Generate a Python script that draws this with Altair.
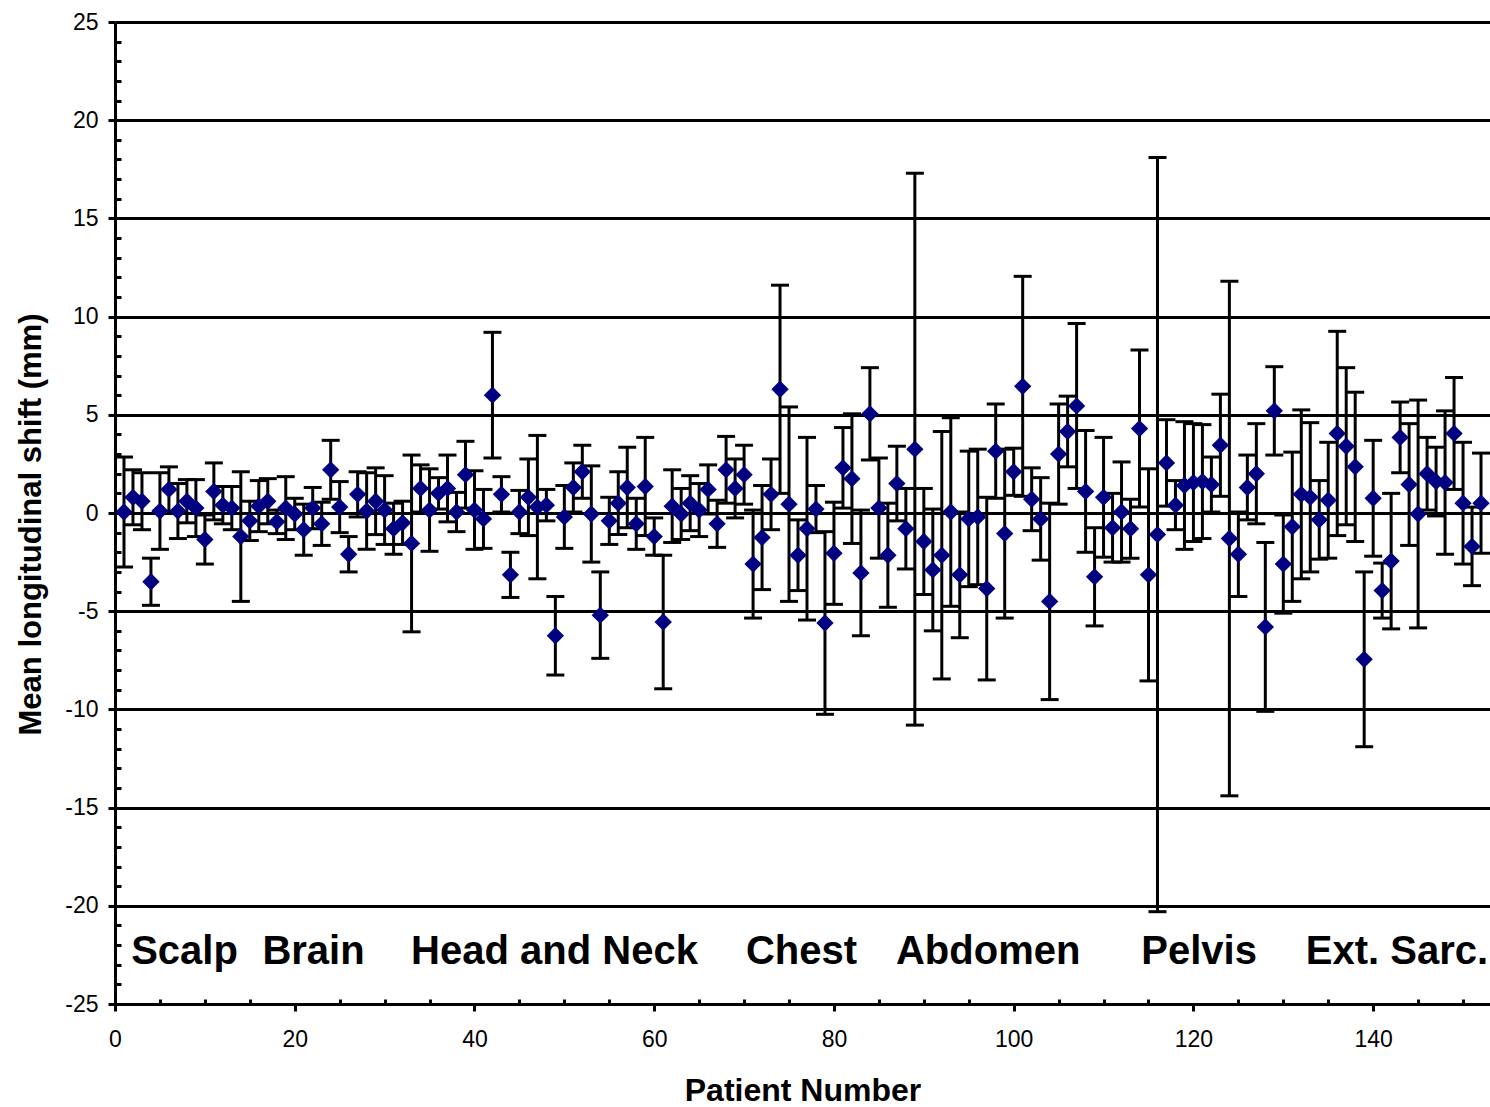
import altair as alt
import pandas as pd

patients = list(range(1, 153))

means = [
    0.05, 0.8, 0.6, -3.5, 0.1, 1.2, 0.1, 0.6, 0.25, -1.35,
    1.1, 0.4, 0.25, -1.2, -0.4, 0.35, 0.6, -0.45, 0.25, -0.05,
    -0.85, 0.25, -0.55, 2.2, 0.3, -2.1, 0.95, 0.1, 0.6, 0.15,
    -0.8, -0.5, -1.55, 1.25, 0.15, 1.0, 1.25, 0.05, 1.95, 0.15,
    -0.3, 6.0, 0.95, -3.15, 0.05, 0.8, 0.3, 0.4, -6.25, -0.2,
    1.3, 2.1, -0.05, -5.2, -0.4, 0.5, 1.3, -0.55, 1.35, -1.2,
    -5.55, 0.35, -0.05, 0.5, 0.15, 1.2, -0.55, 2.2, 1.25, 1.95,
    -2.6, -1.25, 0.95, 6.3, 0.45, -2.15, -0.8, 0.2, -5.6, -2.05,
    2.3, 1.75, -3.05, 5.05, 0.25, -2.15, 1.5, -0.8, 3.25, -1.45,
    -2.9, -2.15, 0.05, -3.15, -0.3, -0.2, -3.85, 3.15, -1.05, 2.1,
    6.45, 0.7, -0.3, -4.5, 3.0, 4.15, 5.45, 1.1, -3.25, 0.8,
    -0.75, 0.05, -0.8, 4.3, -3.15, -1.1, 2.55, 0.4, 1.4, 1.55,
    1.6, 1.45, 3.45, -1.3, -2.1, 1.3, 2.0, -5.8, 5.2, -2.6,
    -0.7, 0.95, 0.8, -0.35, 0.65, 4.05, 3.4, 2.35, -7.45, 0.75,
    -3.95, -2.45, 3.85, 1.45, -0.05, 2.0, 1.6, 1.55, 4.05, 0.5,
    -1.7, 0.5,
]

errors = [
    2.8, 1.4, 1.45, 1.2, 1.95, 1.15, 1.4, 1.1, 1.45, 1.25,
    1.45, 0.95, 1.1, 3.3, 1.0, 1.3, 1.15, 0.6, 1.6, 0.8,
    1.3, 1.05, 1.1, 1.5, 1.3, 0.9, 1.15, 1.95, 1.7, 1.75,
    1.3, 1.1, 4.5, 1.2, 2.1, 0.8, 1.7, 1.0, 1.7, 2.0,
    1.5, 3.2, 0.9, 1.15, 1.1, 1.95, 3.65, 0.8, 2.0, 1.6,
    1.25, 1.35, 2.45, 2.2, 1.2, 1.6, 2.05, 1.3, 2.5, 0.95,
    3.4, 1.85, 1.3, 1.4, 1.35, 1.25, 1.2, 1.7, 1.5, 1.5,
    2.75, 2.65, 1.8, 5.3, 4.95, 1.8, 4.65, 1.2, 4.65, 2.6,
    2.05, 3.3, 3.2, 2.35, 2.55, 2.65, 1.9, 2.05, 14.05, 2.7,
    3.1, 6.3, 4.8, 3.2, 3.45, 3.45, 4.65, 2.4, 4.3, 1.2,
    5.6, 1.6, 2.1, 5.0, 2.55, 1.8, 4.2, 3.1, 2.5, 3.05,
    1.75, 2.55, 1.5, 4.0, 5.4, 19.2, 2.2, 1.25, 3.25, 3.0,
    2.9, 1.4, 2.6, 13.1, 2.15, 1.65, 2.55, 4.3, 2.25, 2.5,
    3.8, 4.3, 3.8, 2.0, 2.95, 5.2, 4.0, 3.8, 4.45, 2.95,
    1.4, 3.45, 1.8, 3.1, 5.8, 1.85, 1.75, 3.65, 2.85, 3.1,
    2.0, 2.55,
]

regions = ["Scalp", "Brain", "Head and Neck", "Chest", "Abdomen", "Pelvis", "Ext. Sarc."]
region_x = [1.8, 16.4, 32.95, 70.2, 86.9, 114.2, 132.5]
region_y = [-22.95] * 7

x_major = [0, 20, 40, 60, 80, 100, 120, 140]
x_minor = [v for v in range(5, 155, 5) if v % 20 != 0]
y_major = list(range(-25, 30, 5))
y_minor = [v for v in range(-25, 26) if v % 5 != 0]

df = pd.DataFrame({"patient": patients, "mean": means, "err": errors})
df["lo"] = df["mean"] - df["err"]
df["hi"] = df["mean"] + df["err"]

lab = pd.DataFrame({"region": regions, "x": region_x, "y": region_y})

FONT = "Liberation Sans"
xs = alt.Scale(domain=[0, 153], nice=False, zero=False)
ys = alt.Scale(domain=[-25, 25], nice=False, zero=False)

base = alt.Chart(df)

whiskers = base.mark_rule(color="black", strokeWidth=3).encode(
    x=alt.X("patient:Q", scale=xs, axis=alt.Axis(
        orient="bottom", values=x_major, title="Patient Number", grid=False,
        tickSize=7, tickWidth=3, tickColor="black",
        domainWidth=3, domainColor="black", labelFlush=False,
        labelExpr="'' + datum.value",
        labelFont=FONT, labelFontSize=23, labelColor="black", labelPadding=17,
        titleFont=FONT, titleFontSize=32, titleFontWeight="bold", titleColor="black",
        titleY=96, titleBaseline="alphabetic")),
    y=alt.Y("lo:Q", scale=ys, axis=alt.Axis(
        orient="left", values=y_major, title="Mean longitudinal shift (mm)",
        grid=True, gridColor="black", gridWidth=3, gridOpacity=1,
        tickSize=7, tickWidth=3, tickColor="black", labelFlush=False,
        labelExpr="'' + datum.value",
        domainWidth=3, domainColor="black",
        labelFont=FONT, labelFontSize=23, labelColor="black", labelPadding=10,
        titleFont=FONT, titleFontSize=31, titleFontWeight="bold", titleColor="black",
        titleAngle=270, titleX=-75, titleY=502, titleAlign="center",
        titleBaseline="alphabetic")),
    y2="hi:Q",
)

cap_lo = base.mark_tick(orient="horizontal", color="black", size=18, thickness=3, opacity=1).encode(
    x=alt.X("patient:Q", scale=xs, axis=None),
    y=alt.Y("lo:Q", scale=ys, axis=None),
)
cap_hi = base.mark_tick(orient="horizontal", color="black", size=18, thickness=3, opacity=1).encode(
    x=alt.X("patient:Q", scale=xs, axis=None),
    y=alt.Y("hi:Q", scale=ys, axis=None),
)

points = base.mark_point(shape="diamond", filled=True, color="#000080", size=300, opacity=1).encode(
    x=alt.X("patient:Q", scale=xs, axis=alt.Axis(
        orient="bottom", values=x_minor, labels=False, domain=False, grid=False,
        tickSize=5, tickWidth=3, tickColor="black", offset=-5, title=None)),
    y=alt.Y("mean:Q", scale=ys, axis=alt.Axis(
        orient="left", values=y_minor, labels=False, domain=False, grid=False,
        tickSize=6, tickWidth=3, tickColor="black", offset=-6, title=None)),
)

text = alt.Chart(lab).mark_text(
    align="left", baseline="alphabetic", font=FONT, fontSize=40,
    fontWeight="bold", color="black"
).encode(
    x=alt.X("x:Q", scale=xs, axis=None),
    y=alt.Y("y:Q", scale=ys, axis=None),
    text="region:N",
)

chart = alt.layer(whiskers, cap_lo, cap_hi, points, text).resolve_axis(
    x="independent", y="independent"
).properties(
    width=1375, height=982,
    padding={"left": 115, "top": 22, "right": 0, "bottom": 103},
    autosize=alt.AutoSizeParams(type="none"),
    background="white",
).configure_view(stroke=None)

chart.save("out.html", embed_options={"renderer": "svg", "actions": False})
